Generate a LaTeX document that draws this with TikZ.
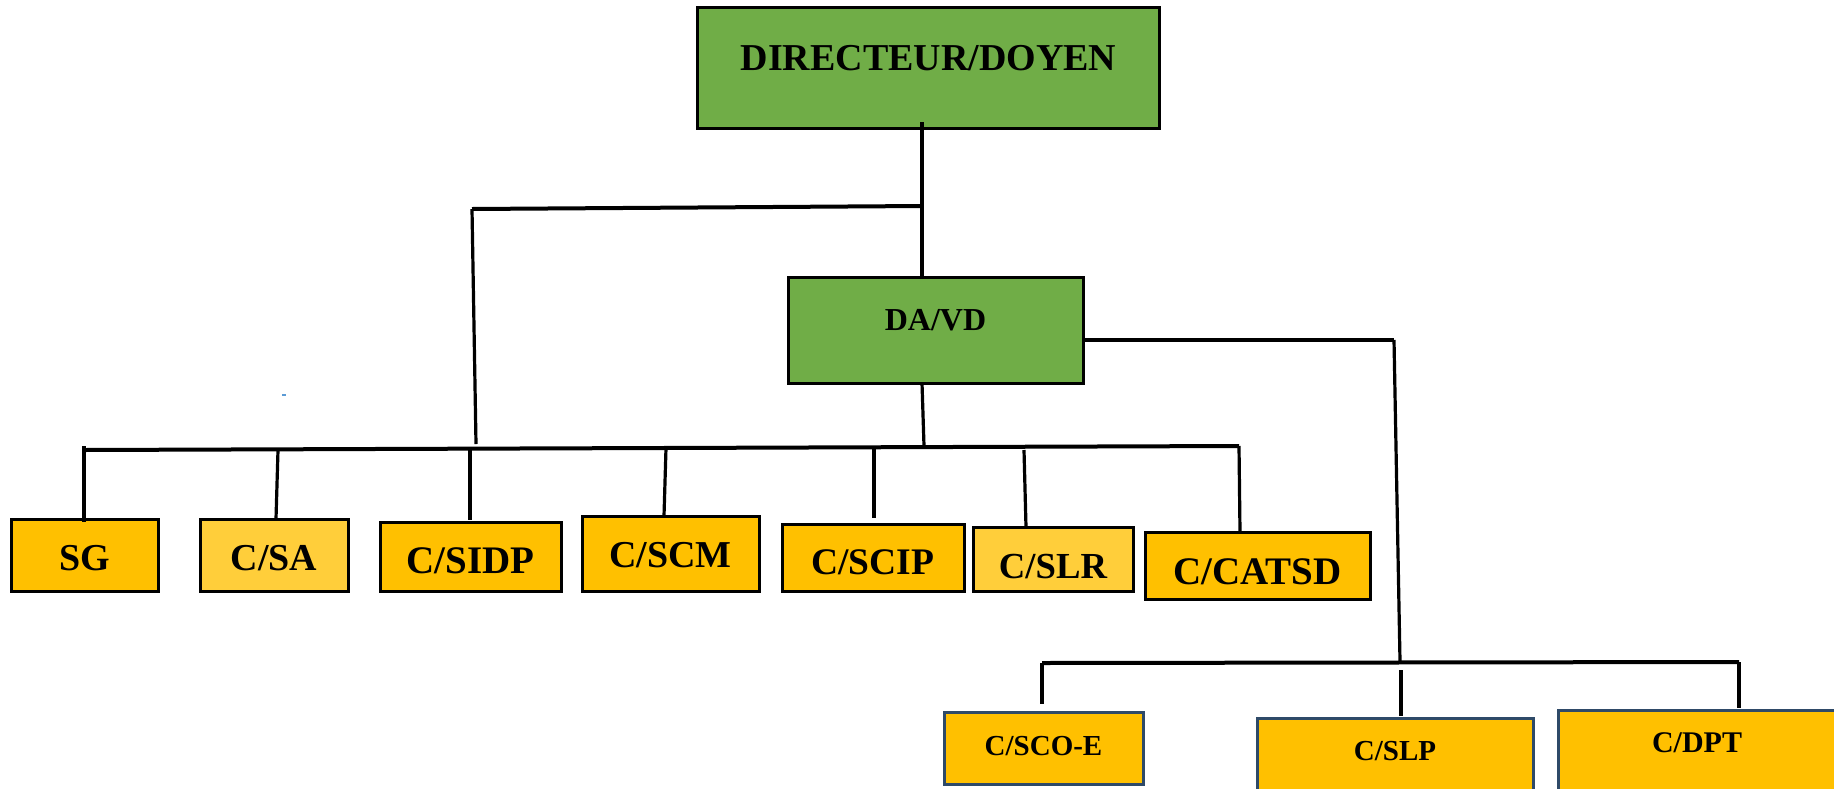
\documentclass[tikz,border=0pt]{standalone}
\usepackage{fontspec}
\setmainfont{Liberation Serif}
\definecolor{vert}{HTML}{70AD47}
\definecolor{or}{HTML}{FFC000}
\definecolor{orclair}{HTML}{FFCE3A}
\definecolor{bordbleu}{HTML}{2F4A68}
\definecolor{strayblue}{HTML}{5B9BD5}
\tikzset{
  box/.style={draw=black, line width=3pt, inner sep=0pt, rectangle},
  greenbox/.style={box, fill=vert},
  goldbox/.style={box, fill=or},
  lightbox/.style={box, fill=orclair},
  bluebox/.style={box, fill=or, draw=bordbleu},
  lbl/.style={anchor=base, inner sep=0pt, font=\bfseries},
  bus/.style={line width=4pt, line cap=butt},
  drop/.style={line width=3.2pt, line cap=butt},
}
\newcommand{\fs}[1]{\fontsize{#1}{#1}\selectfont}
\begin{document}
\begin{tikzpicture}[x=1pt,y=-1pt]
\useasboundingbox (0,0) rectangle (1834,788);
\clip (0,0) rectangle (1834,788);
\fill[white] (0,0) rectangle (1834,788);

% boxes
\node[greenbox, minimum width=462, minimum height=121] (dir) at (928,67.5) {};
\node[greenbox, minimum width=295, minimum height=106] (davd) at (935.5,330) {};
\node[goldbox, minimum width=147, minimum height=72] (sg) at (84.5,555) {};
\node[lightbox, minimum width=148, minimum height=72] (csa) at (274,555) {};
\node[goldbox, minimum width=181, minimum height=69] (csidp) at (470.5,556.5) {};
\node[goldbox, minimum width=177, minimum height=75] (cscm) at (670.5,553.5) {};
\node[goldbox, minimum width=182, minimum height=67] (cscip) at (873,557.5) {};
\node[lightbox, minimum width=160, minimum height=64] (cslr) at (1053,559) {};
\node[goldbox, minimum width=225, minimum height=67] (ccatsd) at (1257.5,565.5) {};
\node[bluebox, minimum width=199, minimum height=72] (cscoe) at (1043.5,748) {};
\node[bluebox, minimum width=276, minimum height=84] (cslp) at (1395,760) {};
\node[bluebox, minimum width=292, minimum height=92] (cdpt) at (1704,756) {};

% labels
\node[lbl] (dirT) at (928.5,70) {\fs{38}DIRECTEUR/DOYEN};
\node[lbl] (davdT) at (935.5,330) {\fs{32}DA/VD};
\node[lbl] (sgT) at (84.5,570) {\fs{38}SG};
\node[lbl] (csaT) at (274,570) {\fs{38}C/SA};
\node[lbl] (csidpT) at (470.5,573) {\fs{39}C/SIDP};
\node[lbl] (cscmT) at (670.5,567) {\fs{38}C/SCM};
\node[lbl] (cscipT) at (872.5,574) {\fs{37.5}C/SCIP};
\node[lbl] (cslrT) at (1053,578) {\fs{36.7}C/SLR};
\node[lbl] (ccatsdT) at (1257.5,584) {\fs{39}C/CATSD};
\node[lbl] (cscoeT) at (1043.5,755) {\fs{29}C/SCO-E};
\node[lbl] (cslpT) at (1395,760) {\fs{29}C/SLP};
\node[lbl] (cdptT) at (1697,752) {\fs{30}C/DPT};

% junction coordinates
\coordinate (j1) at (922,122);
\coordinate (j2) at (922,206);
\coordinate (j3) at (922,277);
\coordinate (l1) at (472,209);
\coordinate (l2) at (476,444);
\coordinate (d1) at (922,383);
\coordinate (d2) at (924,446);
\coordinate (b0) at (84,450);
\coordinate (b1) at (1239,446);
\coordinate (r0) at (1083,340);
\coordinate (r1) at (1394,340);
\coordinate (r2) at (1400,661);
\coordinate (q0) at (1042,663);
\coordinate (q1) at (1739,662);

% top connectors
\draw[drop] (j1) -- (j3);
\draw[bus] (l1) -- (j2);
\draw[drop] (l1) -- (l2);
\draw[drop] (d1) -- (d2);
\draw[bus] (b0) -- (b1);

% drops to first row
\draw[drop] (84,446) -- (84,522);
\draw[drop] (278,450) -- (276,519);
\draw[drop] (470,450) -- (470,520);
\draw[drop] (666,448) -- (664,516);
\draw[drop] (874,448) -- (874,518);
\draw[drop] (1024,450) -- (1026,527);
\draw[drop] (b1) -- (1240,532);

% right branch
\draw[bus] (r0) -- (r1);
\draw[drop] (r1) -- (r2);
\draw[bus] (q0) -- (q1);
\draw[drop] (q0) -- (1042,704);
\draw[drop] (1401,670) -- (1401,716);
\draw[drop] (q1) -- (1739,708);

% stray mark
\draw[line width=1.5pt, color=strayblue] (282,395) -- (286,395);
\end{tikzpicture}
\end{document}
